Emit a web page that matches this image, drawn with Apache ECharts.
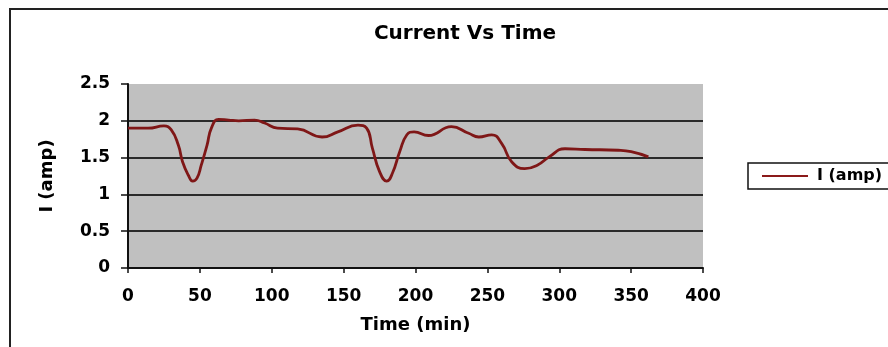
<!DOCTYPE html>
<html>
<head>
<meta charset="utf-8">
<script src="https://cdn.jsdelivr.net/npm/echarts@6/dist/echarts.min.js"></script>
<style>
    html, body { margin: 0; padding: 0; background: #fff; }
    #chart { width: 888px; height: 347px; }
</style>
</head>
<body>
<div id="chart"></div>
<script>
    // time in minutes and current in amps
    var times = [0, 14, 25, 30, 35, 38, 42, 45, 48, 51, 55, 58, 63, 70, 77, 88, 95, 104, 118, 135, 146, 160, 166, 170, 175, 180, 184, 189, 194, 199, 209, 225, 237, 244, 253, 260, 267, 276, 285, 293, 304, 318, 341, 350, 362];
    var current = [1.90, 1.90, 1.93, 1.88, 1.67, 1.44, 1.26, 1.18, 1.22, 1.40, 1.67, 1.90, 2.02, 2.01, 2.00, 2.01, 1.97, 1.90, 1.89, 1.78, 1.85, 1.94, 1.90, 1.63, 1.31, 1.18, 1.29, 1.58, 1.81, 1.85, 1.80, 1.92, 1.83, 1.78, 1.81, 1.69, 1.44, 1.35, 1.40, 1.51, 1.62, 1.61, 1.60, 1.58, 1.51];
    var seriesName = 'I (amp)';

    var points = times.map(function (t, i) { return [t, current[i]]; });
    var font = 'DejaVu Sans, sans-serif';

    var chart = echarts.init(document.getElementById('chart'));
    chart.setOption({
        animation: false,
        backgroundColor: '#fff',
        title: {
            text: 'Current Vs Time',
            left: 460,
            textAlign: 'center',
            top: 19,
            textStyle: { fontFamily: font, fontSize: 20, fontWeight: 'bold', color: '#000' }
        },
        graphic: [{
            type: 'rect',
            shape: { x: 10, y: 9, width: 1000, height: 1000 },
            style: { fill: 'none', stroke: '#222', lineWidth: 2 },
            silent: true
        }],
        legend: {
            left: 748,
            top: 163,
            padding: [5, 14, 5, 14],
            borderColor: '#111',
            borderWidth: 1.5,
            itemWidth: 46,
            itemHeight: 2,
            icon: 'rect',
            textStyle: { fontFamily: font, fontSize: 16, fontWeight: 'bold', color: '#000', padding: [0, 0, 0, 4] },
            data: [seriesName]
        },
        grid: {
            left: 128,
            right: 185,
            top: 84,
            bottom: 79,
            show: true,
            backgroundColor: '#c0c0c0',
            borderWidth: 0
        },
        xAxis: {
            type: 'value',
            min: 0,
            max: 400,
            interval: 50,
            name: 'Time (min)',
            nameLocation: 'middle',
            nameGap: 48,
            nameTextStyle: { fontFamily: font, fontSize: 18, fontWeight: 'bold', color: '#000' },
            axisLine: { show: true, lineStyle: { color: '#111', width: 2 } },
            axisTick: { show: true, length: 5, lineStyle: { color: '#111', width: 1.5 } },
            axisLabel: { margin: 20, fontFamily: font, fontSize: 17, fontWeight: 'bold', color: '#000' },
            splitLine: { show: false }
        },
        yAxis: {
            type: 'value',
            min: 0,
            max: 2.5,
            interval: 0.5,
            name: 'I (amp)',
            nameLocation: 'middle',
            nameGap: 72,
            nameTextStyle: { fontFamily: font, fontSize: 18, fontWeight: 'bold', color: '#000' },
            axisLine: { show: true, lineStyle: { color: '#111', width: 2 } },
            axisTick: { show: true, length: 7, lineStyle: { color: '#111', width: 1.5 } },
            axisLabel: { margin: 18, fontFamily: font, fontSize: 17, fontWeight: 'bold', color: '#000' },
            splitLine: { show: true, showMaxLine: false, lineStyle: { color: '#2a2a2a', width: 2 } }
        },
        series: [{
            name: seriesName,
            type: 'line',
            data: points,
            smooth: 0.5,
            showSymbol: false,
            color: '#8b1a1a',
            lineStyle: { width: 2.8, color: '#7f1717' }
        }]
    });
</script>
</body>
</html>
